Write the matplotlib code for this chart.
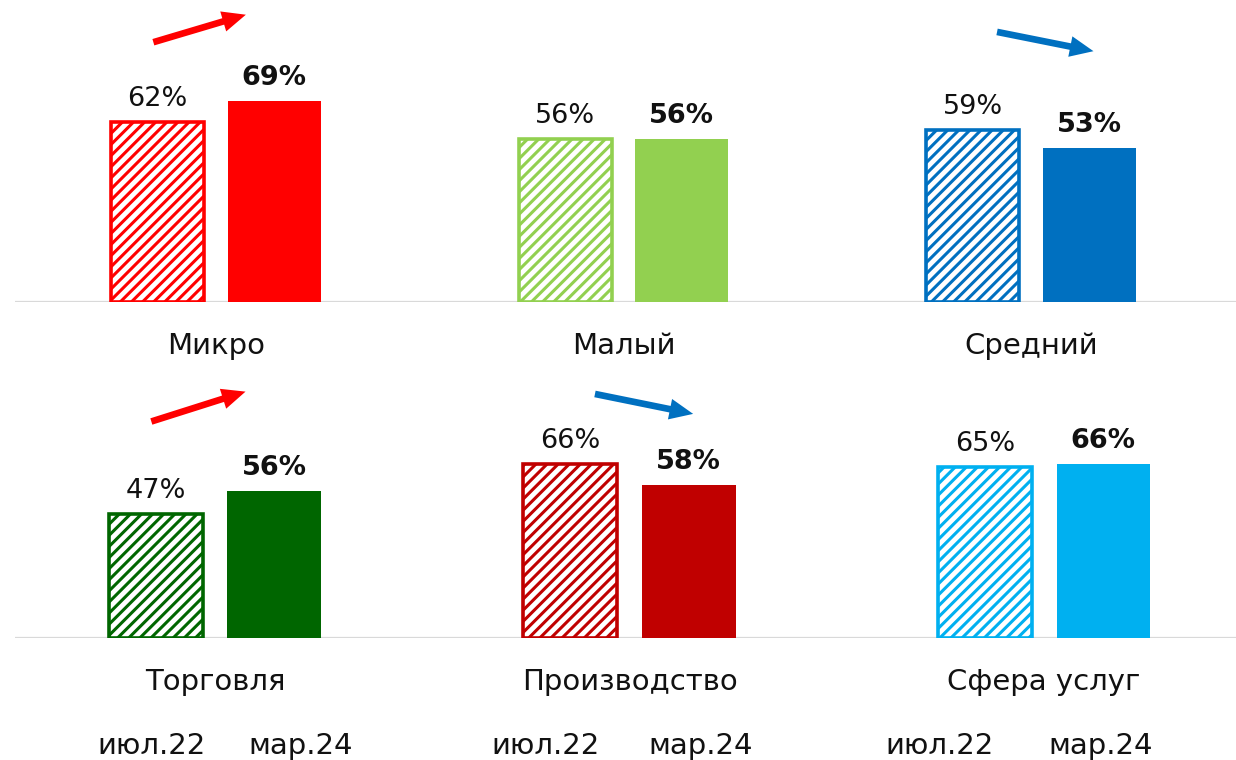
import matplotlib
matplotlib.use("Agg")
import matplotlib.pyplot as plt
from matplotlib.patches import FancyArrowPatch

# data
top_groups = ["Микро", "Малый", "Средний"]
top_jul22 = [62, 56, 59]
top_mar24 = [69, 56, 53]
top_colors = ["#FF0000", "#92D050", "#0070C0"]

bottom_groups = ["Торговля", "Производство", "Сфера услуг"]
bottom_jul22 = [47, 66, 65]
bottom_mar24 = [56, 58, 66]
bottom_colors = ["#006600", "#C00000", "#00B0F0"]

period_labels = ["июл.22", "мар.24"]

plt.rcParams['font.family'] = ['DejaVu Sans']
plt.rcParams['hatch.linewidth'] = 2.2

W, H = 1236, 760
fig = plt.figure(figsize=(W / 100, H / 100), dpi=100)

# axes rectangles in pixels: (left, baseline, top)
ax_top = fig.add_axes([15 / W, (H - 302) / H, (W - 15) / W, 302 / H])
ax_bot = fig.add_axes([15 / W, (H - 638) / H, (W - 15) / W, 258 / H])

ARROW_UP = "#FF0000"
ARROW_DOWN = "#0070C0"
TXT = "#111111"


def draw_row(ax, groups, old, new, colors, xlim, ylim, offs, width, arrows):
    for i, (g, v0, v1, c) in enumerate(zip(groups, old, new, colors)):
        ax.bar(i - offs, v0, width=width, facecolor="white", edgecolor=c,
               hatch="///", linewidth=2.6, zorder=2)
        ax.bar(i + offs, v1, width=width, color=c, linewidth=0, zorder=2)
        ax.annotate(f"{v0}%", xy=(i - offs, v0), xytext=(0, 11.5),
                    textcoords="offset points", ha="center", va="baseline",
                    fontsize=19.5, color=TXT)
        ax.annotate(f"{v1}%", xy=(i + offs, v1), xytext=(0, 11.5),
                    textcoords="offset points", ha="center", va="baseline",
                    fontsize=19.5, fontweight="bold", color=TXT)
        ax.annotate(g, xy=(i, 0), xytext=(0, -31.5), textcoords="offset points",
                    ha="center", va="center", fontsize=21, color=TXT)
        if i in arrows:
            if v1 > v0:
                x0, x1, col = i - 0.16, i + 0.08, ARROW_UP
            else:
                x0, x1, col = i - 0.09, i + 0.16, ARROW_DOWN
            dy0, dy1 = arrows[i]
            arr = FancyArrowPatch((x0, v0 + dy0), (x1, v1 + dy1),
                                  arrowstyle="simple,head_length=0.85,head_width=0.75,tail_width=0.24",
                                  mutation_scale=20, color=col, lw=0, zorder=3,
                                  clip_on=False)
            ax.add_patch(arr)
    ax.axhline(0, color="#D9D9D9", lw=1.6, zorder=1)
    ax.set_xlim(*xlim)
    ax.set_ylim(*ylim)
    ax.axis("off")


draw_row(ax_top, top_groups, top_jul22, top_mar24, top_colors,
         xlim=(-0.493, 2.503), ylim=(0, 302 / 2.91),
         offs=0.143, width=0.228, arrows={0: (27, 30), 2: (34, 33)})
draw_row(ax_bot, bottom_groups, bottom_jul22, bottom_mar24, bottom_colors,
         xlim=(-0.4825, 2.463), ylim=(0, 258 / 2.63),
         offs=0.143, width=0.226, arrows={0: (35, 38), 1: (27, 27)})

# period labels row along the bottom
for k in range(3):
    fig.text((152 + k * 394) / W, (H - 746) / H, period_labels[0],
             ha="center", va="center", fontsize=21, color=TXT)
    fig.text((301 + k * 400) / W, (H - 746) / H, period_labels[1],
             ha="center", va="center", fontsize=21, color=TXT)

fig.savefig("out.png", dpi=100, facecolor="white")
